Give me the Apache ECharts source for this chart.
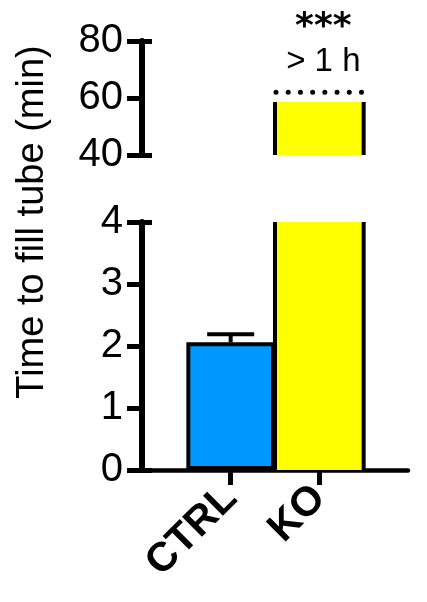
<!DOCTYPE html>
<html><head><meta charset="utf-8">
<script src="https://cdn.jsdelivr.net/npm/echarts@6/dist/echarts.min.js"></script>
<style>html,body{margin:0;padding:0;background:#fff}#c{width:427px;height:602px}</style>
</head><body><div id="c"></div>
<script>
// ---- data ----
const categories = ['', 'CTRL', 'KO', ''];
const barNames = ['CTRL', 'KO'];
const barMeans = [2.06, 58.6];
const barSem = [0.13, 0];
const barColors = ['#0099ff', '#ffff00'];
const topRange = [40, 80, 20];    // min, max, step
const bottomRange = [0, 4, 1];
const capValue = 62;              // dotted "> 1 h" limit
const annotations = ['***', '> 1 h'];
const yTitle = 'Time to fill tube (min)';

const FONT = '"Liberation Sans", Arial, sans-serif';
const chart = echarts.init(document.getElementById('c'), null, {renderer: 'canvas'});

const notBlank = (i, v) => v !== '';
function xAxis(gi, show) {
  return {
    type: 'category', gridIndex: gi, data: categories, boundaryGap: false, show: show,
    axisLine: {lineStyle: {color: '#000', width: 4.5}},
    axisTick: {show: true, length: 15, interval: notBlank, lineStyle: {color: '#000', width: 5}},
    axisLabel: {interval: notBlank, rotate: 45, margin: 22, fontSize: 41, fontWeight: 'bold', fontFamily: FONT, color: '#000'},
    splitLine: {show: false}
  };
}
function yMain(gi, r) {
  return {
    type: 'value', gridIndex: gi, position: 'left', offset: 0, min: r[0], max: r[1], interval: r[2],
    axisLine: {show: true, lineStyle: {color: '#000', width: 6}},
    axisTick: {show: true, inside: false, length: 15, lineStyle: {color: '#000', width: 5}},
    axisLabel: {margin: 19, fontSize: 40, color: '#000', fontFamily: FONT},
    splitLine: {show: false}
  };
}
function yCap(gi, r) {
  return {
    type: 'value', gridIndex: gi, position: 'left', offset: 0, min: r[0], max: r[1], interval: r[1] - r[0],
    axisLine: {show: false},
    axisTick: {show: true, inside: true, length: 10, lineStyle: {color: '#000', width: 5}},
    axisLabel: {show: false},
    splitLine: {show: false}
  };
}

// side edges of the KO bar (no top border), clipped to the grid
function edgesItem(params, api) {
  const cs = params.coordSys;
  const x = api.value(0), v = api.value(1);
  const bw = api.size([1, 0])[0];
  const c = api.coord([x, v]);
  const yTop = Math.max(cs.y, Math.min(cs.y + cs.height, c[1]));
  const yBot = cs.y + cs.height;
  const st = {stroke: '#000', lineWidth: 4};
  return {type: 'group', children: [
    {type: 'line', shape: {x1: c[0] - bw / 2, y1: yBot, x2: c[0] - bw / 2, y2: yTop}, style: st},
    {type: 'line', shape: {x1: c[0] + bw / 2, y1: yBot, x2: c[0] + bw / 2, y2: yTop}, style: st}
  ]};
}

const option = {
  animation: false,
  grid: [
    {left: 142, top: 41, width: 266, height: 114},
    {left: 142, top: 222, width: 266, height: 248}
  ],
  xAxis: [xAxis(0, false), xAxis(1, true)],
  yAxis: [yMain(0, topRange), yCap(0, topRange), yMain(1, bottomRange), yCap(1, bottomRange)],
  graphic: [{
    type: 'text', x: 33, y: 222, rotation: Math.PI / 2,
    style: {text: yTitle, fontSize: 38, fontFamily: FONT, fill: '#000', align: 'center', verticalAlign: 'middle'}
  }],
  series: [
    { // bottom panel bars
      type: 'bar', xAxisIndex: 1, yAxisIndex: 2, barWidth: '100%', clip: true, z: 2,
      data: barNames.map((n, i) => ({value: [n, barMeans[i]],
        itemStyle: {color: barColors[i], borderColor: '#000', borderWidth: n === 'KO' ? 0 : 4}}))
    },
    { // top panel bar (only the one that reaches it)
      type: 'bar', xAxisIndex: 0, yAxisIndex: 0, barWidth: '100%', clip: true, z: 2,
      data: barNames.map((n, i) => barMeans[i] > topRange[0] ? {value: [n, barMeans[i]], itemStyle: {color: barColors[i]}} : {value: [n, '-']})
    },
    {type: 'custom', xAxisIndex: 1, yAxisIndex: 2, z: 3, clip: false, renderItem: edgesItem,
     data: barNames.map((n, i) => [n, barMeans[i]]).filter(d => d[1] > bottomRange[1])},
    {type: 'custom', xAxisIndex: 0, yAxisIndex: 0, z: 3, clip: false, renderItem: edgesItem,
     data: barNames.map((n, i) => [n, barMeans[i]]).filter(d => d[1] > topRange[0])},
    { // error bar (SEM, upper)
      type: 'custom', xAxisIndex: 1, yAxisIndex: 2, z: 4, clip: false,
      data: barNames.map((n, i) => [n, barMeans[i], barSem[i]]).filter(d => d[2] > 0),
      renderItem: (params, api) => {
        const x = api.value(0), m = api.value(1), s = api.value(2);
        const bw = api.size([1, 0])[0];
        const a = api.coord([x, m]), b = api.coord([x, m + s]);
        const half = bw * 0.265;
        const st = {stroke: '#000', lineWidth: 4};
        return {type: 'group', children: [
          {type: 'line', shape: {x1: a[0], y1: a[1], x2: b[0], y2: b[1]}, style: st},
          {type: 'line', shape: {x1: b[0] - half, y1: b[1], x2: b[0] + half, y2: b[1]}, style: st}
        ]};
      }
    },
    { // dotted limit line and annotations above KO
      type: 'custom', xAxisIndex: 0, yAxisIndex: 0, z: 4, clip: false,
      data: [['KO', capValue]],
      renderItem: (params, api) => {
        const p = api.coord([api.value(0), api.value(1)]);
        const bw = api.size([1, 0])[0];
        return {type: 'group', children: [
          {type: 'line', shape: {x1: p[0] - bw / 2 + 1, y1: p[1], x2: p[0] + bw / 2, y2: p[1]},
           style: {stroke: '#000', lineWidth: 5, lineCap: 'round', lineDash: [0.01, 12.2]}},
          {type: 'text', x: p[0] + 4, y: p[1] - 30,
           style: {text: annotations[1], fontSize: 33, fontFamily: FONT, fill: '#000', align: 'center', verticalAlign: 'middle'}},
          {type: 'text', x: p[0] + 4, y: p[1] - 65,
           style: {text: annotations[0], fontSize: 36, fontWeight: 'bold', fontFamily: '"DejaVu Sans", sans-serif', fill: '#000', align: 'center', verticalAlign: 'middle'}}
        ]};
      }
    }
  ]
};
chart.setOption(option);
</script>
</body></html>
